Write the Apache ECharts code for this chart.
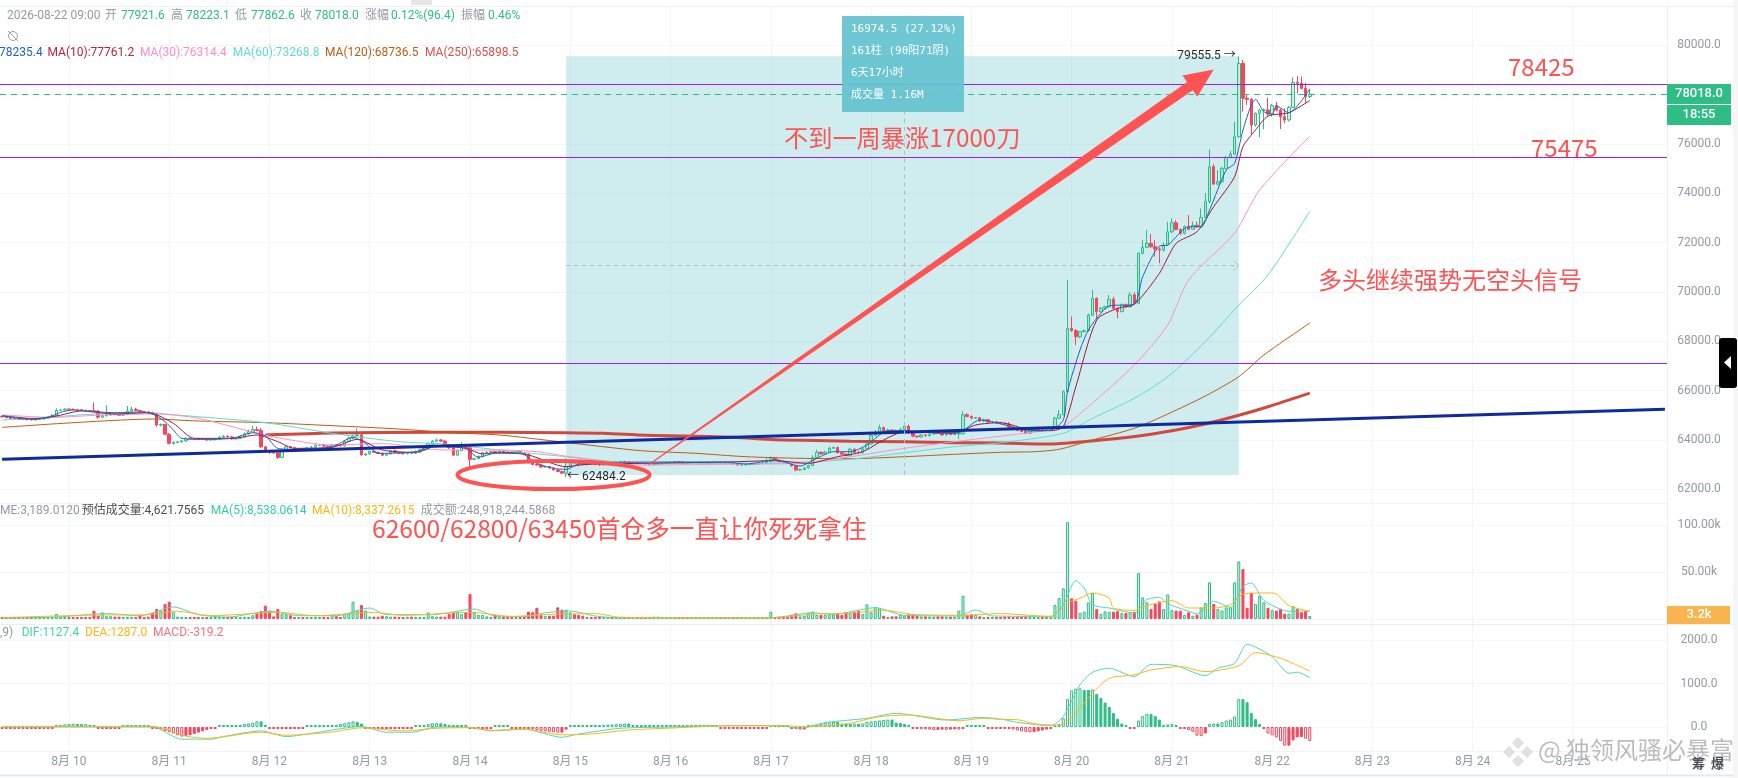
<!DOCTYPE html>
<html><head><meta charset="utf-8">
<style>html,body{margin:0;padding:0;background:#fff}#c{width:1738px;height:778px}</style>
<script src="https://cdn.jsdelivr.net/npm/echarts@6/dist/echarts.min.js"></script>
</head><body><div id="c"></div><script>
// ---- tick labels
const dayLabels = ['8月 10','8月 11','8月 12','8月 13','8月 14','8月 15','8月 16','8月 17','8月 18','8月 19','8月 20','8月 21','8月 22','8月 23','8月 24','8月 25'];
const firstOpen = 64950;
// ---- hourly closes, from 8/9 08:00, one row per day
const closes = [
64930,64900,64870,64850,64830,64840,64820,64810,64830,64850,64880,64910,64980,65200,65210,65250,
65240,65230,65220,65200,65190,65180,65170,64920,64980,65010,65050,65040,65000,65040,65170,65240,65190,65150,65130,65110,65060,64600,64630,64230,
63860,63900,63920,63960,64060,64050,64040,64030,64040,64000,64010,64030,64100,64150,64120,64040,64060,64110,64240,64340,64420,64380,63720,63520,
63480,63470,63290,63560,63720,63680,63640,63640,63600,63680,63700,63780,63780,63750,63720,63800,63780,63760,63930,64070,64160,64200,63390,63430,
63540,63500,63450,63380,63430,63560,63490,63460,63440,63480,63460,63510,63580,63620,63850,63950,64000,63950,63800,63680,63380,63560,63720,63680,
63210,63240,63330,63480,63500,63520,63510,63540,63510,63490,63480,63530,63450,63420,63110,63000,62980,62900,62920,62860,62780,62720,62650,62920,
63080,63060,63020,63000,63040,63030,63010,62980,63000,63030,63010,63100,63120,63100,63070,63080,63060,63050,63020,62990,63010,63030,63050,63080,
63090,63120,63100,63070,63060,63080,63090,63060,63070,63050,63080,63090,63060,63040,63050,63030,62980,62990,63000,63010,63020,63040,63060,63130,
63260,63180,63130,63100,63060,62950,62780,62800,62860,62960,63280,63500,63430,63500,63660,63690,63480,63420,63370,63620,63500,63480,63640,63830,
64180,64300,64500,64350,64400,64380,64360,64430,64560,64300,64150,64120,64200,64170,64240,64280,64260,64200,64260,64220,64240,64250,65020,64950,
64880,64900,64770,64820,64730,64740,64700,64660,64640,64520,64430,64380,64340,64270,64400,64430,64440,64430,64460,64480,64880,65020,65950,68520,
68430,68180,68390,68430,69060,69740,69200,69340,69400,69700,69330,69200,69470,69400,69880,69540,71562,71805,71967,71832,71740,71697,71900,72440,
72805,72535,72373,72643,72540,72700,72640,73022,73657,75077,74374,74468,75009,75455,75591,76294,79268,77848,77808,76767,77240,77375,77380,77213,
77560,77375,77105,76970,77483,78497,78457,78254,77921.6,78018];
const upperWicks = [
30,20,30,20,40,20,30,20,40,30,20,30,60,80,40,30,
20,30,20,30,20,30,340,40,30,400,50,40,30,40,200,100,60,40,30,50,40,40,30,20,
40,40,30,30,40,30,30,40,30,30,30,40,60,50,30,40,30,40,60,80,150,120,100,40,
40,30,30,40,40,30,40,30,40,30,60,40,30,40,30,40,30,40,50,60,60,270,40,30,
30,40,30,40,30,30,50,30,40,30,30,60,60,50,40,40,50,30,30,30,30,60,200,60,
30,30,40,30,40,30,40,30,30,30,40,30,30,40,30,30,30,30,30,30,30,30,30,330,
40,30,30,20,40,30,20,30,30,30,30,50,30,30,20,30,20,30,20,30,30,30,30,30,
30,30,20,20,30,30,20,20,30,20,30,20,20,20,30,30,20,20,20,20,30,30,40,120,
70,50,30,30,20,30,30,30,40,40,100,100,30,60,60,40,40,30,30,60,30,40,60,60,
80,100,120,40,50,40,40,50,150,60,40,30,40,30,40,40,30,30,30,30,30,30,140,60,
40,30,30,40,30,30,30,30,40,80,30,30,30,30,40,40,30,40,40,40,60,200,50,1960,
480,60,20,40,60,340,40,40,40,180,100,40,60,60,100,100,50,300,540,380,270,60,100,400,
180,100,40,60,470,150,146,365,340,700,108,470,60,60,135,608,287.5,135,136,60,40,40,60,495,
60,150,60,338,60,203,257,270,229,205.1];
const lowerWicks = [
20,20,30,20,20,30,20,20,30,20,20,30,30,40,30,20,
20,30,20,30,20,30,30,60,40,30,30,40,30,30,40,30,20,30,20,30,40,60,60,40,
40,60,30,30,40,30,30,40,30,40,30,40,30,30,40,30,30,30,30,30,30,30,60,50,
30,30,60,40,30,30,30,40,30,30,40,30,30,40,30,40,30,30,30,30,30,40,30,40,
30,30,30,40,30,30,30,40,30,30,30,30,40,30,30,30,40,30,30,50,30,30,30,30,
365,30,30,30,30,30,30,30,30,30,30,30,30,30,70,30,30,30,30,30,30,30,40,165.8,
30,20,30,20,30,30,20,30,20,30,20,30,30,20,30,20,30,20,30,20,30,30,20,30,
20,30,20,30,20,30,20,30,20,30,20,30,20,30,20,40,30,20,30,20,30,20,30,20,
30,30,20,30,30,40,50,40,30,30,30,30,30,30,30,30,30,40,30,30,40,30,30,30,
30,30,30,40,30,30,40,30,40,60,40,30,30,40,30,30,30,40,30,30,30,200,40,40,
30,30,40,30,30,30,40,30,30,30,40,30,30,40,30,60,30,30,30,30,30,40,30,30,
40,330,60,40,40,40,270,30,30,30,60,270,30,40,30,40,40,40,40,40,310,540,70,40,
60,40,60,40,40,30,30,30,40,60,40,60,40,40,40,40,40,540,230,365,70,970,785,60,
100,60,500,136,60,40,406,40,249,59];
// ---- volume in thousands
const volumes = [
1,1.5,1.5,1.2,.8,.8,.8,1,1,1.2,.8,1,1,5.3,2.5,1.5,
2,2,1.5,1.5,1.5,2,8.9,3.5,7,3,3,2.5,2.5,2,2,2,2,4.3,2,2.5,6.4,10.6,8.9,16,
18.4,7.1,2.5,2,1.5,1,2,2,2,1.5,1.5,2,1,1.5,1.5,2,2.5,2,1.5,2,4,6,8.5,14.2,
8.9,2.8,10.6,5.3,5.3,4,1.5,1.5,1,1,1,1.5,1,1,2,4.3,3,1.5,5.3,6,18.4,8.9,14.9,8.9,
2.8,2.5,2.5,3.5,3,2.5,2.5,2,2,2.5,2.5,2,2,2,7,3,2.5,2.5,2.5,5.3,7,7.8,5,7,
26.6,7.1,4.3,4.3,2.8,2.1,4.3,2.8,1.7,1.7,1.7,1.8,1.8,2,7.8,7.1,12,4.3,3.5,3.5,3.5,12.4,9.9,9.9,
7.1,5,4.3,3.5,2.1,1.4,1.4,1.4,1,1,1,1.2,1,1,.8,1,1,1,1,1,2.5,2.5,1,1,
.8,1,.8,.9,.8,1,.8,.9,.8,1,.9,.8,.9,.8,1,.8,.9,.8,1,.9,.8,.9,1,.9,
7.8,2.1,2.1,2,2,4.6,6,2.8,3.5,6.4,7.8,4.3,4.3,4.3,5,5,6,4.3,7.1,6.4,7.8,8.9,5.3,15.6,
7.1,12.8,11.3,3.5,2.1,2.8,2.8,4.3,3.5,5,5,3.5,2.8,2.8,2.5,2.5,2.8,2.8,2.5,2.5,2.5,8.9,24.8,4.3,
5,4.3,2.8,2.1,2.1,2.1,2.1,2,2.5,2.5,2.1,2,2.5,2.5,2.8,2.1,1.8,2,1.8,2.8,14.9,22.3,32.6,103,
22,19.5,6.4,7.8,17.7,27.7,10.6,5.3,8.2,7.8,7.8,8.5,6.4,6.4,7.1,7.8,48.9,23,17.7,10.6,16,18.8,10.6,26.2,
9.6,8.9,8.9,4.3,7.1,3.5,4.6,12.4,17,39,16,10.6,8.9,12.4,12.4,39,61.3,53.2,12,27.7,16,24.8,17.7,12,
9.6,8.9,11,5.7,5.7,13.5,10.6,7.1,8.5,3.2];
// ---- MACD histogram
const macdBars = [
-25,-30,-35,-40,-45,-50,-45,-40,-35,-20,-15,-20,-15,20,30,60,
70,75,70,65,70,40,35,-20,-30,-25,-25,-20,-25,10,10,8,5,10,8,5,-10,-30,-60,-90,
-120,-150,-190,-220,-210,-190,-160,-130,-100,-70,-40,-25,25,25,25,20,20,30,70,80,100,130,130,50,
-20,-40,-50,-50,-40,-30,-25,-15,-10,20,30,40,45,45,40,35,50,70,90,110,130,120,80,-20,
-30,-45,-40,-45,-40,-35,-35,-30,-25,-20,-15,15,25,35,70,85,95,85,70,50,30,25,25,20,
-25,-40,-45,-40,-35,-25,25,25,25,25,-10,-10,-10,-15,-40,-50,-70,-85,-100,-110,-120,-130,-130,-60,
20,20,20,30,30,35,30,40,50,55,60,70,75,80,80,40,35,30,25,25,20,20,20,20,
20,20,20,20,22,20,22,20,20,22,20,25,-10,-10,-10,-8,-25,-25,-25,-25,-20,-15,-15,-15,
30,30,30,30,30,-30,-40,-60,-60,5,40,55,70,100,110,120,115,80,80,75,80,75,80,120,
130,140,150,160,170,170,100,90,70,50,-40,-45,-50,-55,-60,-70,-70,-60,-65,-60,-55,-60,-20,40,
40,40,40,20,-10,-20,-30,-20,-30,-40,-60,-80,-100,-110,-120,-115,-100,-80,-60,-30,30,70,200,640,
840,880,890,850,850,860,760,670,560,460,320,190,80,20,-15,-25,150,250,300,300,250,170,40,60,
70,40,-10,-30,-70,-110,-200,-210,-150,70,80,80,110,150,170,240,640,640,570,320,180,70,-20,-150,
-190,-240,-320,-430,-430,-310,-240,-230,-270,-319.2];
// ---- line series: [bar number, value] read at the visible turning points
const ma5 = [[0,64968],[4,64873],[8,64833],[12,64968],[14,65117],[17,65211],[22,65144],[27,65103],[33,65130],[36,65049],[39,64738],[41,64400],[43,64062],[47,64022],[55,64062],[60,64292],[63,64157],[66,63657],[70,63616],[79,63724],[84,64103],[87,63859],[90,63454],[99,63521],[103,63792],[106,63724],[111,63657],[114,63292],[118,63454],[124,63454],[128,63048],[132,62845],[135,62805],[138,63021],[147,63089],[161,63102],[173,63102],[178,63021],[185,63184],[191,62940],[195,63251],[199,63521],[203,63521],[207,63792],[212,64373],[216,64373],[223,64292],[229,64306],[234,64806],[239,64650],[246,64360],[251,64400],[254,64805],[255,65954],[258,67644],[260,68455],[263,69131],[265,69429],[271,69510],[273,70615],[277,71859],[279,71900],[284,72643],[287,72643],[289,73319],[293,74942],[295,75212],[297,76564],[299,77578],[300,77808],[302,77308],[304,77213],[305,77537],[308,77267],[313,78235.4]];
const ma10 = [[0,64982],[8,64860],[13,64968],[19,65171],[27,65049],[35,65103],[41,64671],[46,64062],[55,64062],[61,64197],[66,63927],[70,63657],[79,63697],[85,64022],[91,63589],[99,63494],[104,63765],[111,63657],[115,63427],[119,63500],[126,63386],[135,62913],[140,63008],[153,63048],[173,63102],[185,63157],[193,63048],[200,63319],[206,63521],[211,63995],[216,64333],[228,64265],[233,64603],[239,64698],[246,64400],[251,64373],[254,64535],[257,66157],[262,68861],[267,69334],[271,69496],[277,70750],[281,71967],[286,72440],[290,73454],[295,74671],[297,75888],[300,76564],[303,77132],[308,77267],[313,77761.2]];
const ma30 = [[0,65009],[12,64914],[24,65009],[37,65049],[47,64873],[64,64157],[79,63792],[91,63846],[106,63589],[119,63589],[128,63521],[136,63317],[153,62981],[178,63022],[191,63050],[203,63317],[216,63659],[228,63926],[251,64400],[254,64534],[261,65496],[271,67036],[279,68658],[284,70483],[295,72388],[301,74132],[313,76314.4]];
const ma60 = [[0,64806],[13,64941],[22,65049],[36,65103],[39,65049],[63,64698],[79,64265],[95,63927],[106,63832],[119,63589],[135,63317],[153,63050],[178,63050],[191,63091],[203,63212],[216,63480],[228,63723],[239,63885],[254,64267],[261,64875],[271,65686],[279,66561],[288,67981],[296,69469],[303,70686],[313,73268.8]];
const ma120 = [[0,64508],[12,64644],[24,64765],[36,64846],[47,64765],[63,64698],[79,64576],[95,64441],[107,64292],[119,64198],[134,63914],[153,63561],[166,63456],[178,63318],[191,63253],[203,63237],[216,63318],[228,63415],[239,63496],[247,63520],[253,63618],[261,63995],[271,64470],[279,65049],[288,65779],[296,66562],[302,67442],[313,68736.5]];
const ma250 = [[63,64198],[79,64279],[103,64307],[119,64307],[134,64291],[144,64267],[154,64186],[164,64157],[175,64104],[185,64007],[192,63983],[203,63942],[216,63926],[228,63885],[239,63873],[251,63833],[263,63995],[272,64157],[280,64372],[288,64644],[296,64996],[303,65345],[313,65898.5]];
const trendLine = [[0,63212],[398,65240]];
const volMa5 = [[0,.7],[13,2.1],[25,5.7],[33,3.5],[41,12.8],[47,4.6],[54,2.1],[64,8.2],[71,3.5],[80,3.5],[88,11.7],[92,4.6],[103,4.6],[113,10.6],[118,3.2],[125,2.5],[130,6.7],[136,8.5],[142,3.2],[148,1.1],[183,1.1],[188,3.2],[194,6.7],[199,5],[209,12],[216,3.9],[229,3.2],[233,9.6],[237,3.2],[251,2.8],[254,15.2],[257,40.8],[259,33],[261,15.2],[265,11.7],[271,6.4],[274,20.6],[277,23],[279,16.3],[284,8.2],[286,5.3],[290,18.8],[294,12.4],[297,34.8],[299,38.3],[302,19.9],[308,8.2],[313,8.54]];
const volMa10 = [[0,1.4],[25,4.3],[33,4.3],[42,8.2],[50,3.5],[66,7.1],[75,3.5],[89,7.1],[96,3.9],[112,7.1],[122,2.8],[131,5],[142,5.7],[148,1.8],[183,1.1],[194,5],[202,6],[211,9.2],[218,5],[229,3.9],[239,5.7],[251,2.8],[255,17],[258,22],[261,27.7],[265,22.3],[266,11.7],[271,9.2],[274,14.2],[280,19.5],[284,11.7],[290,11.7],[294,15.2],[297,26.6],[303,27.7],[305,26.6],[308,14.2],[313,8.34]];
const dif = [[0,0],[36,0],[43,-280],[50,-280],[53,-220],[62,-90],[68,-220],[75,-130],[86,10],[92,-120],[98,-120],[104,0],[112,-8],[117,-90],[125,-50],[134,-236],[138,-160],[148,-30],[160,0],[172,30],[186,30],[191,-30],[197,100],[207,200],[214,313],[226,160],[234,220],[239,183],[243,107],[251,30],[254,240],[258,970],[261,1260],[265,1350],[271,1160],[275,1440],[281,1410],[288,1180],[291,1350],[295,1465],[298,1900],[304,1617],[308,1236],[310,1260],[313,1127.4]];
const dea = [[0,15],[36,15],[44,-210],[49,-260],[62,-120],[68,-190],[79,-115],[86,-20],[96,-90],[104,-30],[112,-15],[117,-75],[125,-50],[134,-180],[141,-160],[150,-70],[160,-25],[172,25],[186,30],[193,8],[202,70],[210,236],[217,275],[229,145],[235,200],[239,175],[243,168],[247,76],[253,38],[257,320],[261,780],[265,1120],[271,1200],[275,1310],[282,1390],[288,1274],[296,1410],[300,1710],[306,1580],[313,1287]];
// ---- horizontal levels and drawn annotations, in data terms
const levels = [78425,75475,67100];
const lastPrice = 78018;
const rangeBox = {startBar:135,endBar:296,low:62580.5,high:79555.5,midBar:216,midPrice:71068};
const peak = {bar:296,price:79555.5}, trough = {bar:135,price:62484.2};
const arrowLine = {from:[155,63022],to:[290,79019]};
const ring = {center:[132,62576],radiusBars:23,radiusPrice:570};

const red='#ff5252', up='#2ebd85', down='#f6465d', grey='#929aa5', split='#f4f5f6';
const fam='Roboto,"Noto Sans CJK SC",sans-serif', cjk='"Noto Sans CJK SC",sans-serif';
const BARS=399, FIRST_DAY=16;
const categories=[]; for(let i=0;i<BARS;i++){const d=i-FIRST_DAY; categories.push(d>=0&&d%24===0?dayLabels[d/24]:'');}
const isDay=(i)=>{const d=i-FIRST_DAY;return d>=0&&d%24===0;};

let prev=firstOpen; const ohlc=[], rising=[];
closes.forEach((c,i)=>{const o=prev;ohlc.push([o,c,Math.min(o,c)-lowerWicks[i],Math.max(o,c)+upperWicks[i]]);rising.push(c>=o);prev=c;});
const hollow='rgba(46,189,133,0.22)';
const volData=volumes.map((v,i)=>({value:v,itemStyle:rising[i]?{color:hollow,borderColor:up,borderWidth:1}:{color:down,borderColor:down,borderWidth:1}}));
const macdData=macdBars.map((v,i)=>{const p=i?macdBars[i-1]:0;const open=(v>=0&&v>p)||(v<0&&v<p);const col=v>=0?up:down;
 return {value:v,itemStyle:{color:open?'rgba(255,255,255,0.55)':col,borderColor:col,borderWidth:1}};});

const xCommon=(g)=>({type:'category',data:categories,gridIndex:g,boundaryGap:true,show:false});
const line=(name,data,color,w,xi,yi,z)=>({name,type:'line',data,xAxisIndex:xi,yAxisIndex:yi,showSymbol:false,symbol:'none',smooth:0.25,lineStyle:{color,width:w},z:z||3,silent:true,animation:false,clip:false});

const T=(text,x,y,fill,size,extra)=>Object.assign({type:'text',x,y,z:50,silent:true,style:{text,fill,font:(size||12)+'px '+fam,textVerticalAlign:'middle',verticalAlign:'middle'}},extra||{});
const headerTexts=[
 ['2026-08-22 09:00',7,16,grey],['开',105,16,grey],['77921.6',121,16,up],['高',171,16,grey],['78223.1',186,16,up],['低',235,16,grey],['77862.6',251,16,up],['收',300,16,grey],['78018.0',315,16,up],['涨幅',365,16,grey],['0.12%(96.4)',391,16,up],['振幅',461,16,grey],['0.46%',488,16,up],
 ['78235.4',-1,53,'#1f62c4'],['MA(10):77761.2',47.5,53,'#b8233f'],['MA(30):76314.4',140,53,'#ff8fc2'],['MA(60):73268.8',232.7,53,'#5fdcd2'],['MA(120):68736.5',325,53,'#bf5b12'],['MA(250):65898.5',425,53,'#df4f48'],
 ['ME:3,189.0120',0,511,grey],['预估成交量:4,621.7565',81.7,511,'#474d57'],['MA(5):8,538.0614',210.7,511,'#2fcfa8'],['MA(10):8,337.2615',312,511,'#ffb515'],['成交额:248,918,244.5868',420.7,511,grey],
 [',9)',0,633,grey],['DIF:1127.4',21.7,633,'#3fd6b4'],['DEA:1287.0',84.9,633,'#ffb515'],['MACD:-319.2',153,633,'#f8727f'],
].map(a=>T(a[0],a[1],a[2],a[3],12));
const bigTexts=[
 ['不到一周暴涨17000刀',784,138,24.2],['78425',1508,67,24],['75475',1531,148,24],['多头继续强势无空头信号',1318,280,24],['62600/62800/63450首仓多一直让你死死拿住',372,528.5,24.6]
].map(a=>({type:'text',x:a[1],y:a[2],z:50,silent:true,style:{text:a[0],fill:red,font:a[3]+'px '+cjk,verticalAlign:'middle',textVerticalAlign:'middle'}}));
const rule=(x1,y1,x2,y2,c,w)=>({type:'line',z:1,silent:true,shape:{x1,y1,x2,y2},style:{stroke:c||'#f1f2f3',lineWidth:w||1}});
const box=(x,y,w,h,fill,z,r)=>({type:'rect',z:z||40,silent:true,shape:{x,y,width:w,height:h,r:r||0},style:{fill}});
const centre=(text,x,y,size,weight,fill)=>({type:'text',x,y,z:45,silent:true,style:{text,fill:fill||'#fff',font:(weight||'normal')+' '+size+'px '+fam,align:'center',textAlign:'center',verticalAlign:'middle',textVerticalAlign:'middle'}});
const diamond=(cx,cy,r,f)=>({type:'polygon',z:60,silent:true,shape:{points:[[cx,cy-r],[cx+r,cy],[cx,cy+r],[cx-r,cy]]},style:{fill:f}});
const graphics=[
 box(1733,0,5,778,'#f6f6f6',0),
 rule(0,6.5,1733,6.5,'#eff0f1'),rule(0,503.5,1667,503.5),rule(0,624.5,1733,624.5,'#eceef0'),rule(0,751.5,1667,751.5),rule(0,775.5,1733,775.5,'#e6e8ea',2),rule(1667.5,6,1667.5,776,'#eef0f1'),
 box(411,0,21,5,'#e6e6e6',2),
 {type:'circle',z:40,silent:true,shape:{cx:13,cy:36,r:4.5},style:{stroke:'#9aa1ab',fill:'none',lineWidth:1}},
 {type:'line',z:40,silent:true,shape:{x1:8,y1:31,x2:18,y2:41},style:{stroke:'#9aa1ab',lineWidth:1}},
 ...headerTexts,...bigTexts,
 box(842,16,122,96,'rgba(99,195,208,0.93)',42),
 ...[['16974.5 (27.12%)',29],['161柱 (90阳71阴)',51],['6天17小时',73],['成交量 1.16M',95]].map(a=>({type:'text',x:851,y:a[1],z:45,silent:true,style:{text:a[0],fill:'#fff',font:'11px "DejaVu Sans Mono","Noto Sans CJK SC",monospace',verticalAlign:'middle',textVerticalAlign:'middle'}})),
 box(1667,84,64,20,up),centre('78018.0',1699,94,13,'500'),box(1667,105,64,20,up),centre('18:55',1699,115,13,'500'),
 rule(1667,94.5,1673,94.5,'#fff'),
 box(1667,606,63,18,'#f9b44e'),centre('3.2k',1699,615,13,'500'),rule(1667,616.5,1673,616.5,'#fff'),
 box(1719,338,18,50,'#000',48,3),
 {type:'polygon',z:49,silent:true,shape:{points:[[1724,362.5],[1731,356],[1731,369]]},style:{fill:'#fff'}},
 diamond(1518,743,6,'#e0e0e0'),diamond(1509,752,6,'#e0e0e0'),diamond(1527,752,6,'#e0e0e0'),diamond(1518,761,6,'#e0e0e0'),
 {type:'text',x:1538,y:750,z:60,silent:true,style:{text:'@ 独领风骚必暴富',fill:'rgba(120,120,120,0.5)',stroke:'rgba(255,255,255,0.8)',lineWidth:1.5,font:'24px '+cjk,verticalAlign:'middle',textVerticalAlign:'middle'}},
 {type:'text',x:1692,y:763,z:61,silent:true,style:{text:'筹  爆',fill:'#474d57',font:'bold 13px '+cjk,verticalAlign:'middle',textVerticalAlign:'middle'}},
];

const option={
 animation:false,backgroundColor:'#fff',textStyle:{fontFamily:fam},
 graphic:graphics,
 grid:[
  {left:0,width:1667,top:6,height:745},
  {left:0,width:1667,top:45.3,height:443.9},
  {left:0,width:1667,top:525,height:94},
  {left:0,width:1667,top:640,height:130.5}
 ],
 xAxis:[
  {type:'category',data:categories,gridIndex:0,boundaryGap:true,axisLine:{show:false},axisTick:{show:false},
   axisLabel:{color:grey,fontSize:12,fontFamily:fam,margin:5,interval:(i)=>isDay(i)},
   splitLine:{show:true,alignWithLabel:true,interval:(i)=>isDay(i),lineStyle:{color:split,width:1}}},
  xCommon(1),xCommon(2),xCommon(3)
 ],
 yAxis:[
  {gridIndex:0,show:false,min:0,max:1},
  {gridIndex:1,position:'right',min:62000,max:80000,interval:2000,axisLine:{show:false},axisTick:{show:false},
   axisLabel:{color:grey,fontSize:12,fontFamily:fam,align:'center',margin:32,formatter:v=>v.toFixed(1)},splitLine:{lineStyle:{color:split}}},
  {gridIndex:2,position:'right',min:0,max:100,interval:50,axisLine:{show:false},axisTick:{show:false},
   axisLabel:{color:grey,fontSize:12,fontFamily:fam,align:'center',margin:32,showMinLabel:false,formatter:v=>v.toFixed(2)+'k'},splitLine:{lineStyle:{color:split}}},
  {gridIndex:3,position:'right',min:-1000,max:2000,interval:1000,axisLine:{show:false},axisTick:{show:false},
   axisLabel:{color:grey,fontSize:12,fontFamily:fam,align:'center',margin:32,showMinLabel:false,formatter:v=>v.toFixed(1)},splitLine:{showMinLine:false,lineStyle:{color:split}}}
 ],
 series:[
  {type:'line',xAxisIndex:0,yAxisIndex:0,data:[],silent:true},
  {type:'candlestick',xAxisIndex:1,yAxisIndex:1,data:ohlc,barWidth:3,z:2,silent:true,clip:false,
   itemStyle:{color:hollow,color0:down,borderColor:up,borderColor0:down,borderWidth:1}},
  line('MA250',ma250,'#d2483f',3,1,1),
  line('MA120',ma120,'#bf5b12',1,1,1),
  line('MA60',ma60,'#5fdcd2',1,1,1),
  line('MA30',ma30,'#ff8fc2',1,1,1),
  line('MA10',ma10,'#a3183a',1,1,1),
  line('MA5',ma5,'#1f62c4',1,1,1),
  Object.assign(line('trend',trendLine,'#0f2a9e',3,1,1),{smooth:false}),
  {type:'line',name:'levels',xAxisIndex:1,yAxisIndex:1,data:[],z:3,silent:true,
   markLine:{silent:true,symbol:'none',animation:false,label:{show:false},data:levels.map(v=>({yAxis:v,lineStyle:{color:'#a41ce6',width:1.2,type:'solid'}})).concat([{yAxis:lastPrice,lineStyle:{color:up,width:1,type:[6,5]}}])}},
  {type:'line',name:'range',xAxisIndex:1,yAxisIndex:1,data:[],z:4,silent:true,
   markArea:{silent:true,animation:false,itemStyle:{color:'rgba(95,195,202,0.3)'},data:[[{coord:[rangeBox.startBar,rangeBox.low]},{coord:[rangeBox.endBar,rangeBox.high]}]]},
   markLine:{silent:true,symbol:'none',animation:false,label:{show:false},lineStyle:{color:'#b4bcc4',width:1,type:[4,4]},data:[
    [{coord:[rangeBox.midBar,rangeBox.low]},{coord:[rangeBox.midBar,rangeBox.high]}],
    [{coord:[rangeBox.startBar,rangeBox.midPrice]},{coord:[rangeBox.endBar,rangeBox.midPrice]}]]},
   markPoint:{silent:true,animation:false,symbol:'circle',symbolSize:0,data:[
    {coord:[peak.bar,peak.price],label:{show:true,position:'left',distance:3,formatter:peak.price.toFixed(1)+' →',color:'#1e2329',fontSize:12,fontFamily:fam}},
    {coord:[trough.bar,trough.price],label:{show:true,position:'right',distance:1,formatter:'← '+trough.price.toFixed(1),color:'#1e2329',fontSize:12,fontFamily:fam}}]}},
  {type:'custom',name:'arrow',xAxisIndex:1,yAxisIndex:1,z:6,silent:true,clip:false,data:[[arrowLine.to[0],arrowLine.to[1]]],encode:{x:0,y:1},
   renderItem:(p,api)=>{const a=api.coord(arrowLine.from),b=api.coord(arrowLine.to);
    const dx=b[0]-a[0],dy=b[1]-a[1],L=Math.hypot(dx,dy),ux=dx/L,uy=dy/L,nx=-uy,ny=ux;
    const hb=[b[0]-ux*29,b[1]-uy*29];
    return {type:'polygon',shape:{points:[
      [a[0]+nx*.6,a[1]+ny*.6],[hb[0]+nx*5,hb[1]+ny*5],[hb[0]+nx*13,hb[1]+ny*13],b,[hb[0]-nx*13,hb[1]-ny*13],[hb[0]-nx*5,hb[1]-ny*5],[a[0]-nx*.6,a[1]-ny*.6]]},style:{fill:red}};}},
  {type:'custom',name:'ring',xAxisIndex:1,yAxisIndex:1,z:6,silent:true,clip:false,data:[ring.center],encode:{x:0,y:1},
   renderItem:(p,api)=>{const c=api.coord(ring.center),e=api.coord([ring.center[0]+ring.radiusBars,ring.center[1]+ring.radiusPrice]);
    return {type:'ellipse',shape:{cx:c[0],cy:c[1],rx:e[0]-c[0],ry:c[1]-e[1]},style:{fill:'none',stroke:red,lineWidth:4}};}},
  {type:'custom',name:'chevron',xAxisIndex:1,yAxisIndex:1,z:5,silent:true,clip:false,data:[[rangeBox.endBar,rangeBox.midPrice]],encode:{x:0,y:1},
   renderItem:(p,api)=>{const c=api.coord([rangeBox.endBar,rangeBox.midPrice]);
    return {type:'polyline',shape:{points:[[c[0]-5,c[1]-5],[c[0],c[1]],[c[0]-5,c[1]+5]]},style:{fill:'none',stroke:'#b4bcc4',lineWidth:1}};}},
  {type:'bar',xAxisIndex:2,yAxisIndex:2,data:volData,barWidth:3,barMinHeight:2,z:2,silent:true,clip:false},
  line('vma5',volMa5,'#4fd8bb',1,2,2,3),line('vma10',volMa10,'#ffb515',1,2,2,3),
  {type:'bar',xAxisIndex:3,yAxisIndex:3,data:macdData,barWidth:3,barMinHeight:2,z:2,silent:true,clip:false},
  line('dif',dif,'#4fd8bb',1,3,3,3),line('dea',dea,'#ffb515',1,3,3,3)
 ]
};
const chart=echarts.init(document.getElementById('c'),null,{renderer:'canvas',width:1738,height:778});
chart.setOption(option);
</script></body></html>
